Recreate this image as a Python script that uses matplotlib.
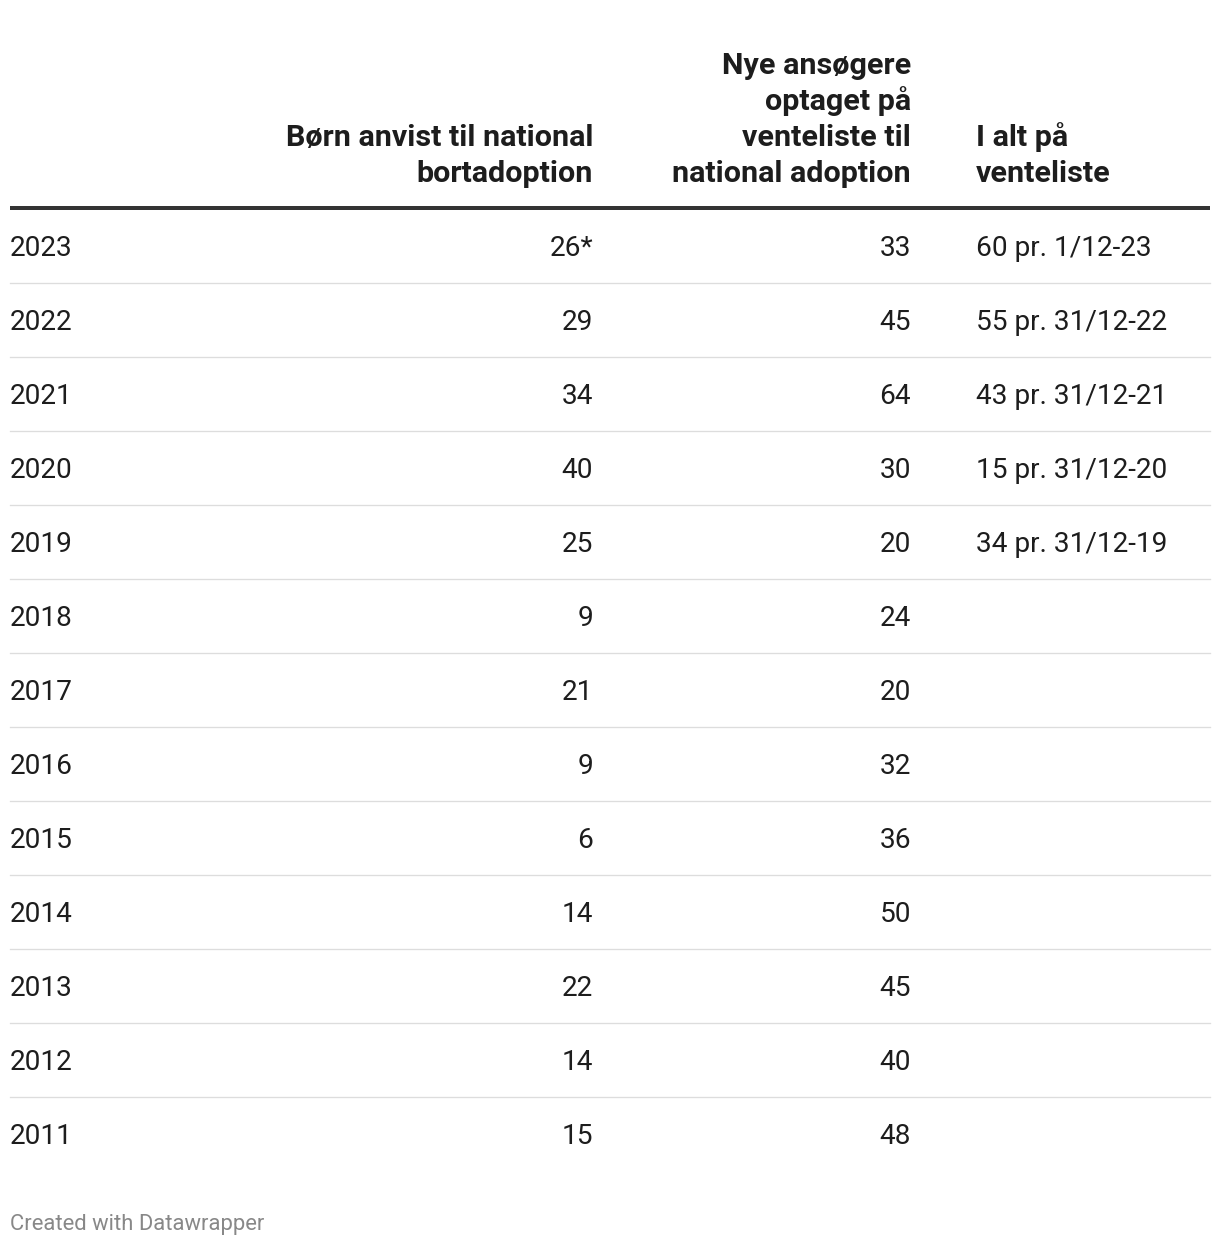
import matplotlib.pyplot as plt
from matplotlib.lines import Line2D

plt.rcParams['font.family'] = ['Roboto', 'DejaVu Sans']

years = ["2023", "2022", "2021", "2020", "2019", "2018", "2017",
         "2016", "2015", "2014", "2013", "2012", "2011"]
born_anvist = ["26*", "29", "34", "40", "25", "9", "21", "9", "6", "14", "22", "14", "15"]
nye_ansogere = ["33", "45", "64", "30", "20", "24", "20", "32", "36", "50", "45", "40", "48"]
i_alt = ["60 pr. 1/12-23", "55 pr. 31/12-22", "43 pr. 31/12-21", "15 pr. 31/12-20",
         "34 pr. 31/12-19", "", "", "", "", "", "", "", ""]

headers = [
    ["Børn anvist til national", "bortadoption"],
    ["Nye ansøgere", "optaget på", "venteliste til", "national adoption"],
    ["I alt på", "venteliste"],
]
footer = "Created with Datawrapper"

W, H = 1220, 1246
PX = 0.72  # points per pixel at dpi 100
fig = plt.figure(figsize=(W / 100, H / 100), dpi=100)
ax = fig.add_axes([0, 0, 1, 1])
ax.set_xlim(0, W)
ax.set_ylim(H, 0)
ax.axis("off")

txt = "#1d1d1d"
fs = 28 * PX
left, right = 10, 1210
col_x = [10, 593, 911, 976]
col_ha = ["left", "right", "right", "left"]

# header, bottom-aligned
head_base = 182
lh = 36
for (x, ha), lines in zip(zip(col_x[1:], col_ha[1:]), headers):
    n = len(lines)
    for i, line in enumerate(lines):
        ax.text(x, head_base - (n - 1 - i) * lh, line, ha=ha, va="baseline",
                fontsize=30.5 * PX, fontweight="bold", color=txt)

ax.add_line(Line2D([left, right], [208, 208], color="#333333", lw=4 * PX,
                   solid_capstyle="butt"))

row_h = 74
first_base = 256
for r, row in enumerate(zip(years, born_anvist, nye_ansogere, i_alt)):
    base = first_base + r * row_h
    for x, ha, val in zip(col_x, col_ha, row):
        ax.text(x, base, val, ha=ha, va="baseline", fontsize=fs, color=txt)
    if r < len(years) - 1:
        y = base + 27
        ax.add_line(Line2D([left, right], [y, y], color="#dddddd", lw=1.3 * PX))

ax.text(10, 1230, footer, ha="left", va="baseline", fontsize=22 * PX, color="#888888")

fig.savefig("out.png", dpi=100, facecolor="white")
